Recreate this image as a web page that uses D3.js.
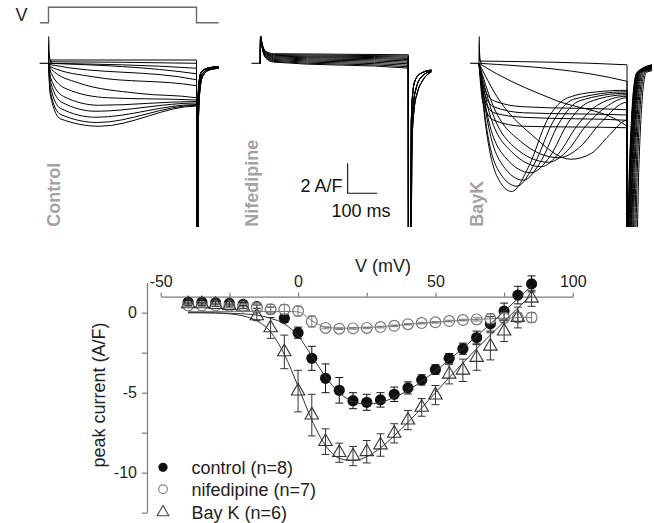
<!DOCTYPE html>
<html><head><meta charset="utf-8">
<script src="https://cdn.jsdelivr.net/npm/d3@7"></script>
<style>
body{margin:0;background:#fff}
svg{display:block}
text{font-family:"Liberation Sans",Arial,Helvetica,sans-serif}
</style>
</head><body>
<svg id="c" width="654" height="523"></svg>
<script>
// ---------------- I-V data ----------------
const voltages = [-40,-35,-30,-25,-20,-15,-10,-5,0,5,10,15,20,25,30,35,40,45,50,55,60,65,70,75,80,85];
const controlMean = [0.65,0.65,0.62,0.58,0.52,0.38,0.2,-0.35,-1.25,-2.85,-4.1,-4.85,-5.5,-5.6,-5.45,-5.1,-4.7,-4.2,-3.55,-2.85,-2.25,-1.55,-0.7,0.1,1.1,1.8];
const controlSem  = [0.1,0.1,0.1,0.1,0.1,0.1,0.15,0.25,0.35,0.75,0.9,0.8,0.5,0.5,0.45,0.45,0.38,0.32,0.3,0.3,0.35,0.4,0.45,0.5,0.55,0.5];
const nifMean = [0.45,0.45,0.45,0.42,0.38,0.3,0.22,0.2,0.1,-0.55,-0.95,-1.0,-0.98,-0.95,-0.9,-0.82,-0.72,-0.65,-0.6,-0.52,-0.46,-0.42,-0.38,-0.32,-0.3,-0.3];
const nifSem  = [0.05,0.05,0.05,0.05,0.1,0.3,0.3,0.3,0.3,0.35,0.06,0.05,0.05,0.05,0.05,0.05,0.05,0.05,0.05,0.05,0.05,0.1,0.3,0.3,0.3,0.3];
const bayMean = [0.55,0.55,0.5,0.45,0.35,-0.2,-0.95,-2.45,-4.9,-6.4,-8.06,-8.75,-8.96,-8.69,-8.27,-7.54,-6.71,-5.92,-5.15,-3.85,-3.6,-2.8,-2.1,-1.15,-0.3,0.9];
const baySem  = [0.1,0.1,0.1,0.1,0.1,0.3,0.65,1.05,1.3,1.3,0.8,0.6,0.6,0.7,0.7,0.6,0.6,0.55,0.6,0.6,0.7,0.8,0.85,0.65,0.65,0.5];
const controlFit = [0,0,-0.01,-0.03,-0.07,-0.15,-0.35,-0.7,-1.45,-2.7,-4.0,-5.0,-5.55,-5.72,-5.6,-5.3,-4.85,-4.28,-3.65,-2.95,-2.22,-1.47,-0.7,0.08,0.88,1.68];
const bayFit = [0,0,-0.02,-0.07,-0.2,-0.5,-1.2,-2.6,-4.6,-6.7,-8.3,-9.1,-9.25,-9.0,-8.45,-7.7,-6.85,-5.95,-5.0,-4.05,-3.15,-2.25,-1.4,-0.55,0.3,1.1];
const nifFit = [0.08,0.08,0.08,0.08,0.08,0.08,0.08,0.08,0.05,-0.5,-0.9,-0.97,-0.96,-0.93,-0.88,-0.81,-0.73,-0.66,-0.6,-0.53,-0.47,-0.42,-0.38,-0.34,-0.31,-0.29];
const xTicks = [-50,-25,0,25,50,75,100];
const xTickLabels = [-50,0,50,100];
const yTicks = [-12.5,-10,-7.5,-5,-2.5,0];
const yTickLabels = [-10,-5,0];
const legendLabels = ["control (n=8)","nifedipine (n=7)","Bay K (n=6)"];

// ---------------- current traces (t in ms, I in A/F) ----------------
const controlTraces = [
  [[0,0.22],[500,0.22]],
  [[0,0.1],[500,0.0]],
  [[0,0],[500,-0.33]],
  [[0,0],[500,-0.7]],
  [[0,0],[10,-0.1],[500,-1.1]],
  [[0,0],[10,-0.25],[150,-0.9],[500,-1.5]],
  [[0,0],[10,-0.4],[100,-1.3],[300,-2.0],[500,-2.3]],
  [[0,0],[10,-0.7],[60,-1.7],[200,-2.3],[500,-2.45]],
  [[0,0],[8,-1.0],[50,-2.2],[170,-2.8],[500,-2.55]],
  [[0,0],[8,-1.3],[45,-2.6],[160,-3.2],[500,-2.65]],
  [[0,0],[7,-1.6],[40,-3.0],[160,-3.6],[500,-2.75]],
  [[0,0],[6,-1.9],[40,-3.4],[165,-3.95],[500,-2.8]],
  [[0,0],[6,-2.1],[40,-3.7],[172,-4.2],[500,-2.85]]
];
const controlTails = [
  [[500.5,-12],[503,-12],[505,-2.6],[509,-1.2],[516,-0.6],[538,-0.32],[575,-0.22]],
  [[500.5,-12],[503.5,-12],[506,-3.0],[511,-1.4],[518,-0.75],[540,-0.4],[575,-0.28]],
  [[500.5,-12],[504,-12],[507,-3.4],[512,-1.7],[520,-0.9],[542,-0.45],[575,-0.33]]
];
const controlSpike = [[-0.5,0],[0,0],[0.6,1.8],[1.6,1.0],[4,0.35],[8,0.1],[12,0]];

const nifTraces = [
  [[0,0],[0.8,1.8],[4,1.5],[10,1.05],[20,0.78],[45,0.64],[500,0.57]],
  [[0,0],[0.8,1.8],[4,1.5],[10,1.02],[20,0.74],[45,0.58],[500,0.49]],
  [[0,0],[0.8,1.8],[4,1.48],[10,1.0],[20,0.7],[45,0.53],[500,0.41]],
  [[0,0],[0.8,1.8],[4,1.46],[10,0.97],[20,0.66],[45,0.48],[500,0.33]],
  [[0,0],[0.8,1.8],[4,1.44],[10,0.94],[20,0.62],[45,0.43],[500,0.25]],
  [[0,0],[0.8,1.8],[4,1.42],[10,0.9],[20,0.57],[45,0.37],[500,0.16]],
  [[0,0],[0.8,1.8],[4,1.4],[10,0.86],[20,0.52],[45,0.31],[500,0.07]],
  [[0,0],[0.8,1.8],[4,1.38],[10,0.82],[20,0.47],[45,0.25],[500,-0.03]],
  [[0,0],[0.8,1.8],[4,1.36],[10,0.78],[20,0.42],[45,0.19],[500,-0.13]],
  [[0,0],[0.8,1.8],[4,1.34],[10,0.74],[20,0.37],[45,0.13],[500,-0.23]],
  [[0,0],[0.8,1.8],[4,1.32],[10,0.7],[20,0.32],[45,0.08],[500,-0.32]]
];
const nifTails = [
  [[500.5,-12],[507,-12],[510,-4.0],[515,-2.0],[522,-1.2],[540,-0.7],[578,-0.45]],
  [[500.5,-12],[508,-12],[512,-4.5],[518,-2.6],[526,-1.7],[545,-0.9],[578,-0.52]],
  [[500.5,-12],[509,-12],[513,-5.0],[520,-3.0],[530,-2.0],[550,-1.1],[578,-0.58]]
];

const bayTraces = [
  [[0,0.15],[500,-0.1]],
  [[0,0],[500,-1.2]],
  [[0,0],[60,-0.7],[250,-2.4],[500,-4.2]],
  [[0,0],[15,-1.5],[50,-2.5],[150,-2.9],[500,-3.1]],
  [[0,0],[15,-1.8],[50,-2.9],[150,-3.3],[500,-3.45]],
  [[0,0],[14,-2.1],[50,-3.3],[150,-3.6],[500,-3.8]],
  [[0,0],[12,-2.5],[50,-3.8],[150,-4.2],[500,-4.3]],
  [[0,0],[25,-4.5],[60,-7.5],[110,-8.55],[170,-6.8],[230,-3.8],[300,-2.3],[400,-1.9],[500,-1.8]],
  [[0,0],[25,-4.2],[70,-7.3],[128,-8.2],[190,-6.6],[250,-3.9],[320,-2.4],[500,-1.9]],
  [[0,0],[30,-4.0],[80,-6.8],[150,-7.8],[210,-6.5],[270,-4.0],[340,-2.5],[500,-2.0]],
  [[0,0],[30,-3.6],[90,-6.3],[175,-7.3],[240,-6.2],[300,-4.0],[370,-2.6],[500,-2.1]],
  [[0,0],[35,-3.3],[110,-5.9],[210,-6.9],[270,-6.0],[330,-4.2],[400,-2.8],[500,-2.2]],
  [[0,0],[40,-3.0],[120,-5.6],[235,-6.6],[300,-5.8],[360,-4.2],[430,-2.9],[500,-2.3]],
  [[0,0],[45,-2.7],[140,-5.2],[270,-6.3],[340,-5.6],[410,-4.0],[500,-2.6]],
  [[0,0],[60,-2.2],[180,-4.8],[310,-6.4],[380,-6.0],[440,-4.8],[500,-3.8]]
];
const bayTailDelay = [1,2,3,4,5,6,8,10,12,14,17,20,24,28,33];
const bayTailEnd = [-0.1,-0.15,-0.2,-0.1,-0.25,-0.3,-0.15,-0.35,-0.2,-0.4,-0.25,-0.3,-0.45,-0.35,-0.5];
const baySpike = [[-0.5,0],[0,0],[0.6,1.8],[1.6,0.8],[4,0.2],[8,0]];

const protocolT = [-29,0,0,500,500,575];
const protocolV = [0,0,1,1,0,0];
const scaleBar = {t:295, i:-8.67, dt:100, di:2};

// ---------------- drawing ----------------
const svg = d3.select("#c");
const iScale = d3.scaleLinear().domain([0,-10.9]).range([63.3,226.7]);
const panelW = 148;
const panels = [
  {x0:48.5, name:"Control", lx:60},
  {x0:260.3, name:"Nifedipine", lx:258},
  {x0:479, name:"BayK", lx:483}
];
panels.forEach(p => { p.t = d3.scaleLinear().domain([0,500]).range([p.x0, p.x0+panelW]); });

svg.append("defs").append("clipPath").attr("id","tclip")
  .append("rect").attr("x",0).attr("y",28).attr("width",654).attr("height",199);

const traceG = svg.append("g").attr("clip-path","url(#tclip)");
function traceLine(p){ return d3.line().x(d=>p.t(d[0])).y(d=>iScale(d[1])).curve(d3.curveMonotoneX); }

// voltage protocol
const pc = panels[0];
const vY = d3.scaleLinear().domain([0,1]).range([22.7,7.3]);
svg.append("path")
  .attr("d", d3.line().x((d,i)=>pc.t(protocolT[i])).y(d=>vY(d))(protocolV))
  .attr("fill","none").attr("stroke","#6a6a6a").attr("stroke-width",1.4);
svg.append("text").attr("x",15.5).attr("y",21).attr("font-size",18).attr("fill","#222").text("V");

function drawPanel(p, traces, tailsFor, spike){
  const line = traceLine(p);
  traceG.append("path").attr("d", line([[-30,0],[0,0]]))
    .attr("fill","none").attr("stroke","#111").attr("stroke-width",1.2);
  traces.forEach((tr,k) => {
    const end = tr[tr.length-1];
    const full = tr.concat(tailsFor(k, end));
    traceG.append("path").attr("d", line(full))
      .attr("fill","none").attr("stroke","#000").attr("stroke-width",1);
  });
  if (spike) traceG.append("path").attr("d", line(spike))
    .attr("fill","none").attr("stroke","#000").attr("stroke-width",1.1);
  svg.append("text")
    .attr("transform",`translate(${p.lx},226.7) rotate(-90)`)
    .attr("font-size",18).attr("font-weight","bold").attr("fill","#a3a3a3")
    .text(p.name);
}
drawPanel(panels[0], controlTraces, k => controlTails[k % controlTails.length], controlSpike);
drawPanel(panels[1], nifTraces, k => nifTails[k % nifTails.length], null);
drawPanel(panels[2], bayTraces, (k,end) => {
  const d = bayTailDelay[k], e = bayTailEnd[k];
  return [[500.5,-12],[500+d,-12],[507+d,-7],[515+d,-3.4],[523+d,-1.4],[533+d,-0.6],[584,e]];
}, baySpike);

// scale bar
const pn = panels[1];
svg.append("path")
  .attr("d", d3.line()([[pn.t(scaleBar.t), iScale(scaleBar.i+scaleBar.di)],[pn.t(scaleBar.t), iScale(scaleBar.i)],[pn.t(scaleBar.t+scaleBar.dt), iScale(scaleBar.i)]]))
  .attr("fill","none").attr("stroke","#111").attr("stroke-width",1.1);
svg.append("text").attr("x",pn.t(scaleBar.t)-5).attr("y",191.5).attr("text-anchor","end")
  .attr("font-size",18).attr("fill","#111").text("2 A/F");
svg.append("text").attr("x",331.5).attr("y",216.5)
  .attr("font-size",18).attr("fill","#111").text("100 ms");

// ---------------- I-V plot ----------------
const x = d3.scaleLinear().domain([-50,100]).range([160.7,572.8]);
const y = d3.scaleLinear().domain([-12.5,1.9]).range([512.7,282.3]);
const axisColor = "#7a7a7a";

const yAxis = d3.axisLeft(y).tickValues(yTicks).tickSize(5).tickPadding(5).tickSizeOuter(0)
  .tickFormat(d => yTickLabels.includes(d) ? String(d) : "");
const gy = svg.append("g").attr("transform",`translate(${x(-55)},0)`).call(yAxis);
const xAxis = d3.axisTop(x).tickValues(xTicks).tickSize(4).tickPadding(6).tickSizeOuter(0)
  .tickFormat(d => xTickLabels.includes(d) ? String(d) : "");
const gx = svg.append("g").attr("transform",`translate(0,${y(1)})`).call(xAxis);
[gx,gy].forEach(g => {
  g.select(".domain").attr("stroke",axisColor).attr("stroke-width",1.2);
  g.selectAll(".tick line").attr("stroke",axisColor).attr("stroke-width",1.2);
  g.selectAll(".tick text").attr("fill","#222").attr("font-size",16)
   .attr("font-family",'"Liberation Sans",Arial,sans-serif');
});

svg.append("text").attr("x",383).attr("y",271.5).attr("text-anchor","middle")
  .attr("font-size",18).attr("fill","#222").text("V (mV)");
svg.append("text").attr("transform","translate(105,395) rotate(-90)").attr("text-anchor","middle")
  .attr("font-size",18).attr("fill","#222").text("peak current (A/F)");

// markers
svg.append("g").selectAll("circle").data(controlMean).join("circle")
  .attr("cx",(d,i)=>x(voltages[i])).attr("cy",d=>y(d)).attr("r",5.6).attr("fill","#111");
svg.append("g").selectAll("circle").data(nifMean).join("circle")
  .attr("cx",(d,i)=>x(voltages[i])).attr("cy",d=>y(d)).attr("r",5.4)
  .attr("fill","#fff").attr("stroke","#777").attr("stroke-width",1.2);
const tri = d3.symbol().type(d3.symbolTriangle).size(78);
svg.append("g").selectAll("path").data(bayMean).join("path")
  .attr("transform",(d,i)=>`translate(${x(voltages[i])},${y(d)})`).attr("d",tri)
  .attr("fill","none").attr("stroke","#333").attr("stroke-width",1.1);

// error bars
function errorBars(mean, sem, color){
  const g = svg.append("g").attr("stroke",color).attr("stroke-width",1).attr("fill","none");
  voltages.forEach((v,i) => {
    const cx = x(v), y1 = y(mean[i]+sem[i]), y2 = y(mean[i]-sem[i]);
    g.append("path").attr("d",`M${cx},${y1}V${y2}M${cx-4},${y1}H${cx+4}M${cx-4},${y2}H${cx+4}`);
  });
}
errorBars(controlMean, controlSem, "#111");
errorBars(nifMean, nifSem, "#777");
errorBars(bayMean, baySem, "#333");

// fits (drawn through the markers)
const fitLine = d3.line().x((d,i)=>x(voltages[i])).y(d=>y(d)).curve(d3.curveMonotoneX);
[[nifFit,"#777"],[controlFit,"#333"],[bayFit,"#333"]].forEach(([f,c]) => {
  svg.append("path").attr("d",fitLine(f)).attr("fill","none").attr("stroke",c).attr("stroke-width",1);
});

// legend
const legY = [467.3,489.3,512.3];
const leg = svg.append("g");
leg.append("circle").attr("cx",163).attr("cy",legY[0]).attr("r",4.6).attr("fill","#111");
leg.append("circle").attr("cx",163).attr("cy",legY[1]).attr("r",4.4).attr("fill","#fff").attr("stroke","#888").attr("stroke-width",1.2);
leg.append("path").attr("transform",`translate(163,${legY[2]})`).attr("d",d3.symbol().type(d3.symbolTriangle).size(60))
  .attr("fill","#fff").attr("stroke","#444").attr("stroke-width",1.1);
legendLabels.forEach((t,i) => {
  leg.append("text").attr("x",191.5).attr("y",legY[i]+7).attr("font-size",18).attr("fill","#222").text(t);
});
</script>
</body></html>
